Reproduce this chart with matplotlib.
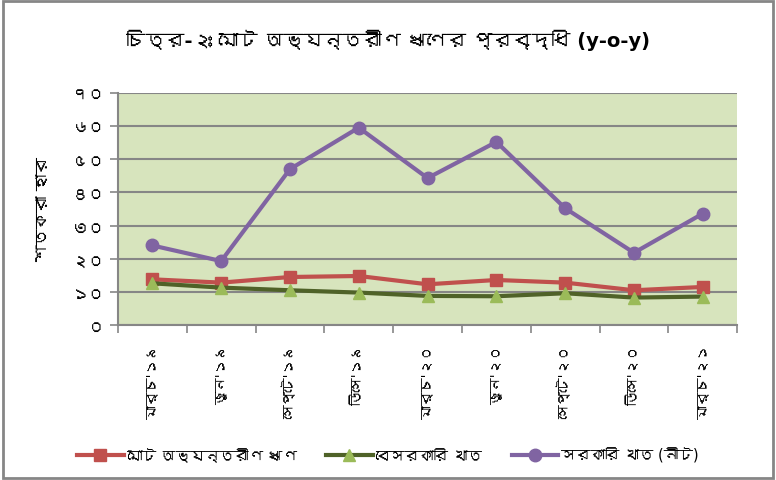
import matplotlib
matplotlib.use("Agg")
import matplotlib.pyplot as plt
from matplotlib import font_manager
from matplotlib.ft2font import FT2Font
from matplotlib.patches import Rectangle

# data
months = ["মার্চ'১৯", "জুন'১৯", "সেপ্টে'১৯", "ডিসে'১৯", "মার্চ'২০",
          "জুন'২০", "সেপ্টে'২০", "ডিসে'২০", "মার্চ'২১"]
total_domestic = [13.8, 12.8, 14.5, 14.8, 12.3, 13.6, 12.8, 10.5, 11.5]
private_sector = [12.6, 11.3, 10.5, 9.8, 8.8, 8.7, 9.6, 8.3, 8.6]
public_sector = [24.0, 19.3, 47.0, 59.5, 44.3, 55.2, 35.2, 21.8, 33.6]
series_names = ["মোট অভ্যন্তরীণ ঋণ", "বেসরকারি খাত", "সরকারি খাত (নীট)"]
y_ticks = [0, 10, 20, 30, 40, 50, 60, 70]
y_tick_labels = ["০", "১০", "২০", "৩০", "৪০", "৫০", "৬০", "৭০"]
title = "চিত্র-২ঃ মোট অভ্যন্তরীণ ঋণের প্রবৃদ্ধি (y-o-y)"
y_label = "শতকরা হার"


def find_bengali_fonts():
    found = []
    for f in font_manager.fontManager.ttflist:
        try:
            if 0x0995 in FT2Font(f.fname).get_charmap():
                if f.name not in found:
                    found.append(f.name)
        except Exception:
            pass
    return found


# DejaVu first for latin, bengali glyphs fall back to whatever font has them
families = ["DejaVu Sans"] + find_bengali_fonts()
plt.rcParams["font.family"] = families

fig = plt.figure(figsize=(7.76, 4.81), dpi=100)
ax = fig.add_axes([0.152, 0.322, 0.798, 0.483])
ax.set_facecolor("#D7E4BD")

x = list(range(len(months)))
ax.plot(x, total_domestic, color="#C0504D", lw=3, marker="s", ms=9,
        mfc="#C0504D", mec="#C0504D", label=series_names[0], zorder=3)
ax.plot(x, private_sector, color="#4F6228", lw=3, marker="^", ms=9,
        mfc="#9BBB59", mec="#9BBB59", label=series_names[1], zorder=3)
ax.plot(x, public_sector, color="#8064A2", lw=3, marker="o", ms=9,
        mfc="#8064A2", mec="#8064A2", label=series_names[2], zorder=3)

ax.set_ylim(0, 70)
ax.set_xlim(-0.5, len(months) - 0.5)
ax.set_yticks(y_ticks)
ax.set_yticklabels(y_tick_labels, fontsize=12)
ax.yaxis.grid(True, color="#868686", lw=1.5)
ax.set_axisbelow(True)

ax.set_xticks([i - 0.5 for i in range(len(months) + 1)])
ax.set_xticklabels([])
ax.set_xticks(x, minor=True)
ax.set_xticklabels(months, minor=True, rotation=90, fontsize=10, va="top")
ax.tick_params(axis="x", which="minor", length=0, pad=14)
ax.tick_params(axis="both", which="major", length=6, color="#868686", width=1.2)

for side in ["top", "right"]:
    ax.spines[side].set_visible(False)
for side in ["left", "bottom"]:
    ax.spines[side].set_color("#868686")
    ax.spines[side].set_linewidth(1.5)

ax.set_ylabel(y_label, fontsize=12, labelpad=14)
fig.text(0.5, 0.915, title, ha="center", va="center", fontsize=14, fontweight="bold")

fig.legend(loc="center", bbox_to_anchor=(0.5, 0.052), ncol=3, frameon=False,
           fontsize=10.5, handlelength=3.2, handletextpad=0.2, columnspacing=2.0)

fig.patches.append(Rectangle((0.004, 0.005), 0.992, 0.99, transform=fig.transFigure,
                             fill=False, edgecolor="#868686", lw=2))

fig.savefig("out.png", dpi=100)
